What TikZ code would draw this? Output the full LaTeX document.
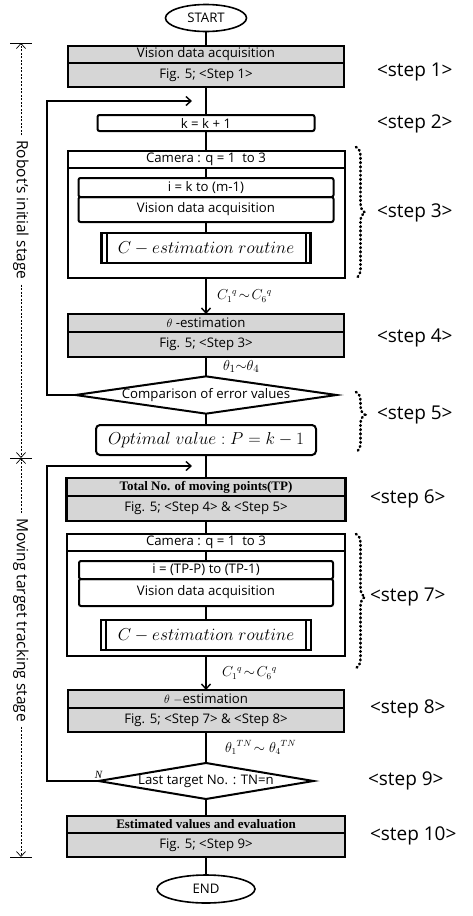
\documentclass[tikz,border=0pt]{standalone}
\usepackage{fontspec}
\setsansfont{Open Sans}
\newfontfamily\boldserif{Liberation Serif}
\usetikzlibrary{shapes.geometric,arrows.meta,decorations.pathreplacing,positioning}

\begin{document}
\begin{tikzpicture}[x=1pt,y=-1pt]
		\tikzset{>={Straight Barb[length=5pt,width=9pt]}}
		\tikzset{
			every node/.style={font=\sffamily\fontsize{13.2}{15}\selectfont, inner sep=0pt, outer sep=0pt},
			term/.style={ellipse, draw, line width=1.6pt, minimum width=81pt, minimum height=27pt},
			grayhead/.style={rectangle, draw, line width=2.4pt, fill=black!16, minimum width=276pt, minimum height=17pt},
			graybody/.style={grayhead, minimum height=24pt},
			framebox/.style={rectangle, draw, line width=2pt, minimum width=277pt},
			procbox/.style={rectangle, draw, rounded corners=2pt, line width=2pt},
			predef/.style={rectangle, draw, line width=2.4pt, minimum width=209pt, minimum height=30pt, font=\fontsize{16}{18}\selectfont},
			decision/.style={diamond, draw, line width=2pt, inner sep=0pt},
			conn/.style={line width=1.4pt},
			flowlabel/.style={font=\fontsize{13.5}{15}\selectfont},
			steplabel/.style={font=\sffamily\fontsize{19}{22}\selectfont, anchor=west},
			stagelabel/.style={font=\sffamily\fontsize{15.5}{17}\selectfont, rotate=-90, inner xsep=5pt},
			stagearrow/.style={->, line width=0.7pt, dash pattern=on 2pt off 1.5pt},
			dotbrace/.style={decorate, decoration={brace, amplitude=9pt}, line width=2.6pt, dash pattern=on 0.8pt off 3.4pt, line cap=round}
		}
		\useasboundingbox (0,0) rectangle (472,916);

		% robot's initial stage
		\node[term] (start) at (206,18) {START};
		\node[grayhead, anchor=north] (vis) at (206,46) {Vision data acquisition};
		\node[graybody, anchor=north] (visfig) at (vis.south) {Fig. 5; <Step 1>};
		\node[procbox, minimum width=217pt, minimum height=16pt] (kinc) at (206,123) {k = k + 1};
		\node[framebox, minimum height=127pt] (cam1box) at (206,214.5) {};
		\node[framebox, anchor=north, minimum height=17pt] (cam1) at (cam1box.north) {Camera : q = 1 \ to 3};
		\node[procbox, anchor=north, minimum width=255pt, minimum height=19pt] (loop1) at (206,178) {i = k to (m-1)};
		\node[procbox, anchor=north, minimum width=255pt, minimum height=25pt] (loop1v) at (loop1.south) {Vision data acquisition};
		\node[predef] (cest1) at (206,248) {$C - estimation\ routine$};
		\node[grayhead, anchor=north, minimum height=18pt] (theta1) at (206,314) {$\theta$ -estimation};
		\node[graybody, anchor=north, minimum height=25pt] (theta1fig) at (theta1.south) {Fig. 5; <Step 3>};
		\node[decision, aspect=7, minimum width=242pt, minimum height=35pt] (cmp) at (206,395) {Comparison of error values};
		\node[procbox, rounded corners=4pt, minimum width=220pt, minimum height=30pt, font=\fontsize{16}{18}\selectfont] (opt) at (206,440) {$Optimal\ value : P = k - 1$};

		% moving target tracking stage
		\node[grayhead, anchor=north, minimum width=279pt, minimum height=18pt, font=\boldserif\bfseries\fontsize{13}{15}\selectfont] (total) at (206,478) {Total No. of moving points(TP)};
		\node[graybody, anchor=north, minimum width=279pt, minimum height=25pt] (totalfig) at (total.south) {Fig. 5; <Step 4> \& <Step 5>};
		\node[framebox, minimum width=278pt, minimum height=122pt] (cam2box) at (206,595) {};
		\node[framebox, anchor=north, minimum width=278pt, minimum height=17pt] (cam2) at (cam2box.north) {Camera : q = 1 \ to 3};
		\node[procbox, anchor=north, minimum width=254pt, minimum height=18pt] (loop2) at (206,561) {i = (TP-P) to (TP-1)};
		\node[procbox, anchor=north, minimum width=254pt, minimum height=27pt] (loop2v) at (loop2.south) {Vision data acquisition};
		\node[predef, minimum width=210pt] (cest2) at (206,635) {$C - estimation\ routine$};
		\node[grayhead, anchor=north, minimum height=18pt] (theta2) at (206,690) {$\theta$ $-$estimation};
		\node[graybody, anchor=north] (theta2fig) at (theta2.south) {Fig. 5; <Step 7> \& <Step 8>};
		\node[decision, aspect=6, minimum width=215pt, minimum height=36pt] (last) at (206,781) {Last target No. : TN=n};
		\node[grayhead, anchor=north, minimum width=278pt, font=\boldserif\bfseries\fontsize{13}{15}\selectfont] (est) at (206,816) {Estimated values and evaluation};
		\node[graybody, anchor=north, minimum width=278pt] (estfig) at (est.south) {Fig. 5; <Step 9>};
		\node[term, minimum width=98pt, minimum height=28pt] (end) at (206,889) {END};

		% double side lines of the routine boxes
		\foreach \r in {cest1,cest2} {
			\draw[line width=2pt] ([xshift=5pt]\r.north west) -- ([xshift=5pt]\r.south west);
			\draw[line width=2pt] ([xshift=-5pt]\r.north east) -- ([xshift=-5pt]\r.south east);
		}

		% main flow
		\draw[conn] (start) -- (vis);
		\draw[conn] (visfig) -- (kinc);
		\draw[conn] (kinc) -- (cam1);
		\draw[conn] (cam1) -- (loop1);
		\draw[conn] (loop1v) -- (cest1);
		\draw[conn,->] (cam1box) -- node[flowlabel, right=11pt] {$C_1{}^q\!\sim\! C_6{}^q$} (theta1);
		\draw[conn] (theta1fig) -- node[flowlabel, right=17pt, font=\fontsize{15}{16}\selectfont] {$\theta_1{\sim}\theta_4$} (cmp);
		\draw[conn] (cmp) -- (opt);
		\draw[conn] (opt) -- (total);
		\draw[conn] (totalfig) -- (cam2);
		\draw[conn] (cam2) -- (loop2);
		\draw[conn] (loop2v) -- (cest2);
		\draw[conn,->] (cam2box) -- node[flowlabel, right=16pt] {$C_1{}^q\!\sim\! C_6{}^q$} (theta2);
		\draw[conn] (theta2fig) -- node[flowlabel, right=19pt] {$\theta_1{}^{TN}\!\sim\theta_4{}^{TN}$} (last);
		\draw[conn] (last) -- (est);
		\draw[conn] (estfig) -- (end);

		% feedback loops
		\coordinate (back1) at (47,101);
		\coordinate (in1) at (192,101);
		\coordinate (back2) at (47,466);
		\coordinate (in2) at (192,466);
		\draw[conn,->] (cmp) -- (cmp -| back1) -- (back1) -- (in1);
		\draw[conn,->] (last) -- (last -| back2) -- (back2) -- (in2);
		\node[font=\boldserif\itshape\fontsize{11}{12}\selectfont, above=3pt] (nlabel) at (last.west) {N};

		% step labels
		\node[steplabel] (s1) at (377,72) {<step 1>};
		\node[steplabel] (s2) at (377,124) {<step 2>};
		\node[steplabel] (s3) at (377,213) {<step 3>};
		\node[steplabel] (s4) at (377,338) {<step 4>};
		\node[steplabel] (s5) at (377,415) {<step 5>};
		\node[steplabel] (s6) at (370,499) {<step 6>};
		\node[steplabel] (s7) at (370,597) {<step 7>};
		\node[steplabel] (s8) at (370,709) {<step 8>};
		\node[steplabel] (s9) at (368,781) {<step 9>};
		\node[steplabel] (s10) at (370,836) {<step 10>};

		% dotted braces
		\draw[dotbrace, decoration={aspect=0.5}] (356,147) -- (356,278);
		\draw[dotbrace, decoration={aspect=0.38}] (356,392) -- (356,452);
		\draw[dotbrace, decoration={aspect=0.47}] (356,534) -- (356,668);

		% stage markers
		\coordinate (t1) at (21,43);
		\coordinate (t2) at (21,458);
		\coordinate (t3) at (21,857);
		\foreach \t in {t1,t2,t3}
			\draw[line width=0.9pt] ([xshift=-11pt]\t) -- ([xshift=11pt]\t);
		\node[stagelabel] (stage1) at (21,210) {Robot's initial stage};
		\node[stagelabel] (stage2) at (21,620) {Moving target tracking stage};
		\draw[stagearrow] (stage1.west) -- (t1);
		\draw[stagearrow] (stage1.east) -- (t2);
		\draw[stagearrow] (stage2.west) -- (t2);
		\draw[stagearrow] (stage2.east) -- (t3);
\end{tikzpicture}
\end{document}
